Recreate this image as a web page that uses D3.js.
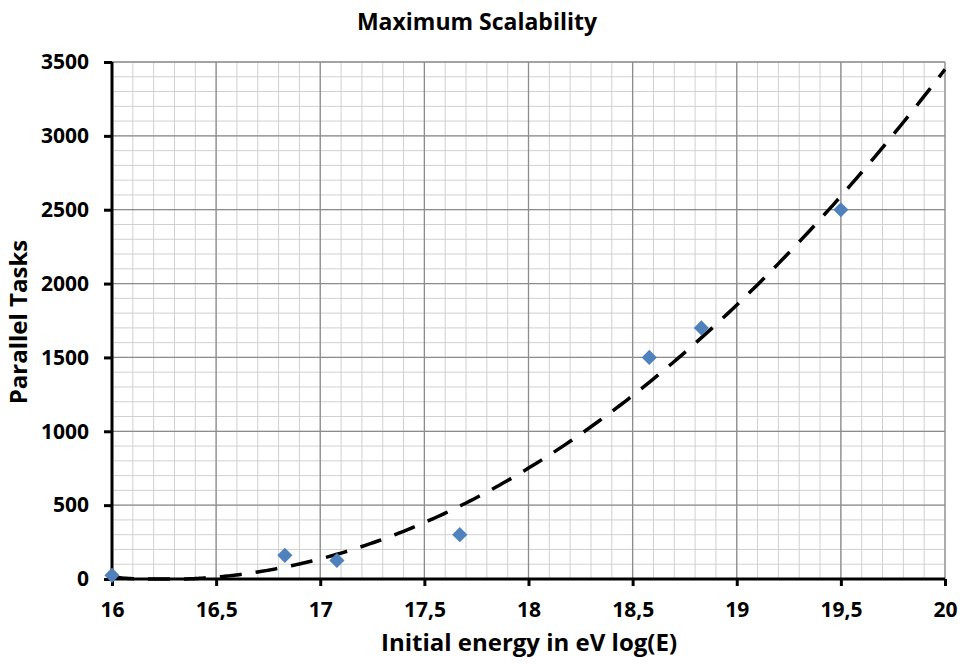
<!doctype html>
<html>
  <head>
    <meta charset="utf-8">
    <title>Maximum Scalability</title>
    <script src="https://cdn.jsdelivr.net/npm/d3@7/dist/d3.min.js"></script>
    <style>
      body { margin: 0; background: #fff; }
      text { font-family: "Open Sans", "DejaVu Sans", sans-serif; font-weight: bold; fill: #000; }
    </style>
  </head>
  <body>
    <script>
      // measured points
      const energy = [16, 16.83, 17.08, 17.67, 18.58, 18.83, 19.5];
      const tasks = [25, 160, 125, 300, 1500, 1700, 2500];

      const xTicks = [16, 16.5, 17, 17.5, 18, 18.5, 19, 19.5, 20];
      const yTicks = [0, 500, 1000, 1500, 2000, 2500, 3000, 3500];

      const width = 965;
      const height = 667;
      const margin = { top: 62, right: 20, bottom: 88, left: 112 };
      const plotW = 945 - margin.left;
      const plotH = 579 - margin.top;

      const svg = d3.select('body').append('svg')
          .attr('width', width)
          .attr('height', height);

      const g = svg.append('g')
          .attr('transform', `translate(${margin.left}, ${margin.top})`);

      const x = d3.scaleLinear().domain([16, 20]).range([0, plotW]);
      const y = d3.scaleLinear().domain([0, 3500]).range([plotH, 0]);

      // minor grid
      const minorX = d3.range(160, 201).map(d => d / 10);
      const minorY = d3.range(0, 3501, 100);
      g.append('g').selectAll('line')
        .data(minorX)
        .enter().append('line')
          .attr('x1', d => x(d)).attr('x2', d => x(d))
          .attr('y1', 0).attr('y2', plotH)
          .attr('stroke', '#d0d0d0').attr('stroke-width', 1);
      g.append('g').selectAll('line')
        .data(minorY)
        .enter().append('line')
          .attr('x1', 0).attr('x2', plotW)
          .attr('y1', d => y(d)).attr('y2', d => y(d))
          .attr('stroke', '#d0d0d0').attr('stroke-width', 1);

      // major grid
      g.append('g').selectAll('line')
        .data(xTicks)
        .enter().append('line')
          .attr('x1', d => x(d)).attr('x2', d => x(d))
          .attr('y1', 0).attr('y2', plotH)
          .attr('stroke', '#8c8c8c').attr('stroke-width', 1.3);
      g.append('g').selectAll('line')
        .data(yTicks)
        .enter().append('line')
          .attr('x1', 0).attr('x2', plotW)
          .attr('y1', d => y(d)).attr('y2', d => y(d))
          .attr('stroke', '#8c8c8c').attr('stroke-width', 1.3);

      // axes
      const xAxis = d3.axisBottom(x)
          .tickValues(xTicks)
          .tickSize(7)
          .tickPadding(16)
          .tickFormat(d => String(d).replace('.', ','));
      const gx = g.append('g')
          .attr('transform', `translate(0, ${plotH})`)
          .call(xAxis);
      gx.select('.domain').attr('d', `M0,0H${plotW}`);

      const yAxis = d3.axisLeft(y)
          .tickValues(yTicks)
          .tickSize(8)
          .tickPadding(15)
          .tickFormat(d3.format('d'));
      const gy = g.append('g').call(yAxis);
      gy.select('.domain').attr('d', `M0,${plotH}V0`);

      [gx, gy].forEach(a => {
        a.select('.domain').attr('stroke', '#000').attr('stroke-width', 3);
        a.selectAll('.tick line').attr('stroke', '#000').attr('stroke-width', 3);
        a.selectAll('.tick text')
            .style('font-size', '21px')
            .attr('fill', '#000');
      });

      // quadratic trendline, least squares on the points
      function polyFit2(xs, ys) {
        const n = xs.length;
        let s = [0, 0, 0, 0, 0], t = [0, 0, 0];
        for (let i = 0; i < n; i++) {
          const u = xs[i] - 18;
          for (let k = 0; k < 5; k++) s[k] += Math.pow(u, k);
          for (let k = 0; k < 3; k++) t[k] += ys[i] * Math.pow(u, k);
        }
        const A = [[s[0], s[1], s[2], t[0]], [s[1], s[2], s[3], t[1]], [s[2], s[3], s[4], t[2]]];
        for (let c = 0; c < 3; c++) {
          for (let r = c + 1; r < 3; r++) {
            const f = A[r][c] / A[c][c];
            for (let k = c; k < 4; k++) A[r][k] -= f * A[c][k];
          }
        }
        const b = [0, 0, 0];
        for (let r = 2; r >= 0; r--) {
          let v = A[r][3];
          for (let k = r + 1; k < 3; k++) v -= A[r][k] * b[k];
          b[r] = v / A[r][r];
        }
        return u => b[0] + b[1] * (u - 18) + b[2] * (u - 18) * (u - 18);
      }
      const fit = polyFit2(energy, tasks);
      const trendX = d3.range(16, 20.001, 0.02);

      const line = d3.line()
          .x(d => x(d))
          .y(d => y(Math.max(0, fit(d))))
          .curve(d3.curveMonotoneX);

      g.append('path')
          .datum(trendX)
          .attr('d', line)
          .attr('fill', 'none')
          .attr('stroke', '#000')
          .attr('stroke-width', 3.5)
          .attr('stroke-dasharray', '22,14');

      // points
      const diamond = d3.symbol().type(d3.symbolSquare).size(115);
      g.append('g').selectAll('path')
        .data(energy)
        .enter().append('path')
          .attr('d', diamond)
          .attr('transform', (d, i) => `translate(${x(d)}, ${y(tasks[i])}) rotate(45)`)
          .attr('fill', '#4f81bd');

      // titles
      svg.append('text')
          .attr('x', 477).attr('y', 30)
          .attr('text-anchor', 'middle')
          .style('font-size', '23px')
          .text('Maximum Scalability');

      svg.append('text')
          .attr('x', 529).attr('y', 651)
          .attr('text-anchor', 'middle')
          .style('font-size', '24px')
          .text('Initial energy in eV log(E)');

      svg.append('text')
          .attr('transform', 'translate(27, 322) rotate(-90)')
          .attr('text-anchor', 'middle')
          .style('font-size', '24px')
          .text('Parallel Tasks');
    </script>
  </body>
</html>
